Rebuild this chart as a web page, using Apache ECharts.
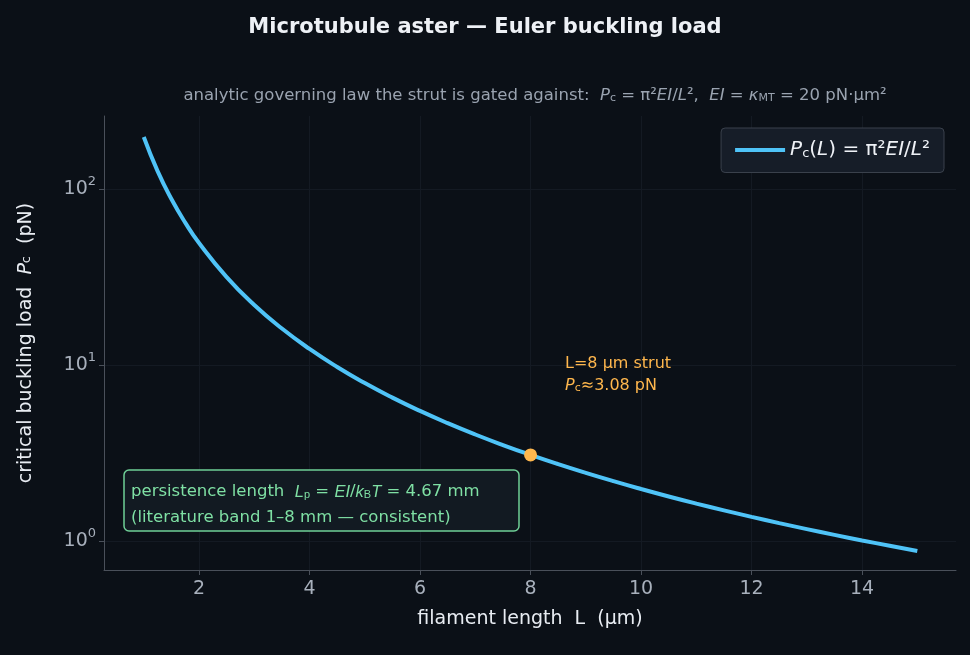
<!DOCTYPE html>
<html><head><meta charset="utf-8">
<script src="https://cdn.jsdelivr.net/npm/echarts@6/dist/echarts.min.js"></script>
<style>html,body{margin:0;background:#0b1017}#c{width:970px;height:655px}</style>
</head><body><div id="c"></div>
<script>
const lengths = [1,1.25,1.5,1.75,2,2.5,3,3.5,4,4.5,5,5.5,6,6.5,7,7.5,8,8.5,9,9.5,10,10.5,11,11.5,12,12.5,13,13.5,14,14.5,15];
const loads = [197.4,126.3,87.73,64.45,49.35,31.58,21.93,16.11,12.34,9.748,7.896,6.525,5.483,4.672,4.028,3.509,3.084,2.732,2.437,2.187,1.974,1.790,1.631,1.493,1.371,1.263,1.168,1.083,1.007,0.939,0.877];
const strut = [8, 3.084];
const xTicks = [2,4,6,8,10,12,14];
const yTicks = {1:'0',10:'1',100:'2'};
const chart = echarts.init(document.getElementById('c'));
const F = 'DejaVu Sans';
chart.setOption({
  backgroundColor:'#0b1017',
  textStyle:{fontFamily:F},
  title:[{text:'Microtubule aster — Euler buckling load',left:'center',top:12,textStyle:{color:'#eef1f6',fontSize:21,fontWeight:'bold',fontFamily:F}},
    {text:'analytic governing law the strut is gated against:  {i|P}{s|c} = {m|π}²{i|EI}/{i|L}²,  {i|EI} = {i|κ}{s|MT} = 20 pN·μm²',left:530,textAlign:'center',top:82,
     textStyle:{color:'#9aa3b0',fontSize:16.5,fontWeight:'normal',fontFamily:F,rich:{i:{fontStyle:'italic',color:'#9aa3b0',fontSize:16.5},m:{color:'#9aa3b0',fontSize:16.5},s:{fontSize:11,verticalAlign:'bottom',color:'#9aa3b0',padding:[6,0,0,0]}}}}],
  grid:{left:104,right:14,top:116,bottom:85},
  legend:{right:26,top:128,itemWidth:50,itemHeight:4,backgroundColor:'#161d28',borderColor:'#3a414c',borderWidth:1,borderRadius:4,padding:[12,14],
    formatter:()=>'{i|P}{s|c}({i|L}) = π²{i|EI}/{i|L}²',
    textStyle:{color:'#eef1f6',fontSize:20,rich:{i:{fontStyle:'italic',fontSize:20,color:'#eef1f6'},s:{fontSize:13,color:'#eef1f6',padding:[8,0,0,0]}}},
    data:[{name:'law',icon:'rect'}]},
  xAxis:{type:'value',min:0.28,max:15.7,interval:2,
    name:'filament length  L  (μm)',nameLocation:'middle',nameGap:40,nameTextStyle:{color:'#e8ecf2',fontSize:19},
    axisLine:{lineStyle:{color:'#4a505a'}},
    axisLabel:{color:'#a8b0bc',fontSize:19,margin:10,customValues:xTicks,formatter:v=>xTicks.includes(Math.round(v*100)/100)?String(v):''},
    axisTick:{customValues:xTicks,lineStyle:{color:'#4a505a'}},
    splitLine:{show:true,lineStyle:{color:'#141a23'}}},
  yAxis:{type:'log',min:0.684,max:260,logBase:10,
    name:'critical buckling load  {i|P}{s|c}  (pN)',nameLocation:'middle',nameGap:68,
    nameTextStyle:{color:'#e8ecf2',fontSize:19,rich:{i:{fontStyle:'italic',fontSize:19,color:'#e8ecf2'},s:{fontSize:13,color:'#e8ecf2'}}},
    axisLine:{show:true,lineStyle:{color:'#4a505a'}},
    axisTick:{show:true,customValues:[1,10,100],lineStyle:{color:'#4a505a'}},
    axisLabel:{color:'#a8b0bc',fontSize:19,customValues:[1,10,100],formatter:v=>{const k=Math.round(v);return yTicks[k]!==undefined?'10{s|'+yTicks[k]+'}':'';},
      rich:{s:{fontSize:13,color:'#a8b0bc',padding:[0,0,14,0]}}},
    splitLine:{show:true,lineStyle:{color:'#141a23'}}},
  series:[
    {name:'law',type:'line',data:lengths.map((l,i)=>[l,loads[i]]),smooth:true,showSymbol:false,lineStyle:{color:'#4fc3f7',width:4},itemStyle:{color:'#4fc3f7'},z:3},
    {name:'strut',type:'scatter',data:[strut],symbolSize:13,itemStyle:{color:'#ffb74d',opacity:1},z:4,
     label:{show:true,position:'right',distance:0,offset:[28,-80],align:'left',color:'#ffb74d',fontSize:16,lineHeight:22,
       formatter:'L=8 μm strut\n{i|P}{s|c}≈3.08 pN',rich:{i:{fontStyle:'italic',color:'#ffb74d',fontSize:16},s:{fontSize:11,color:'#ffb74d',padding:[5,0,0,0]}}}}
  ],
  graphic:[{type:'rect',shape:{x:124,y:470,width:395,height:61,r:5},style:{fill:'#121a22',stroke:'#6fcf97',lineWidth:1.5},z:10},
    {type:'text',left:131,top:479,z:11,style:{text:'persistence length  {i|L}{s|p} = {i|EI}/{i|k}{s|B}{i|T} = 4.67 mm\n(literature band 1–8 mm — consistent)',fill:'#7fe0a4',fontSize:16.5,lineHeight:26,fontFamily:F,
      rich:{i:{fontStyle:'italic',fill:'#7fe0a4',fontSize:16.5},s:{fontSize:11,fill:'#7fe0a4',padding:[6,0,0,0]}}}}]
});
</script></body></html>
